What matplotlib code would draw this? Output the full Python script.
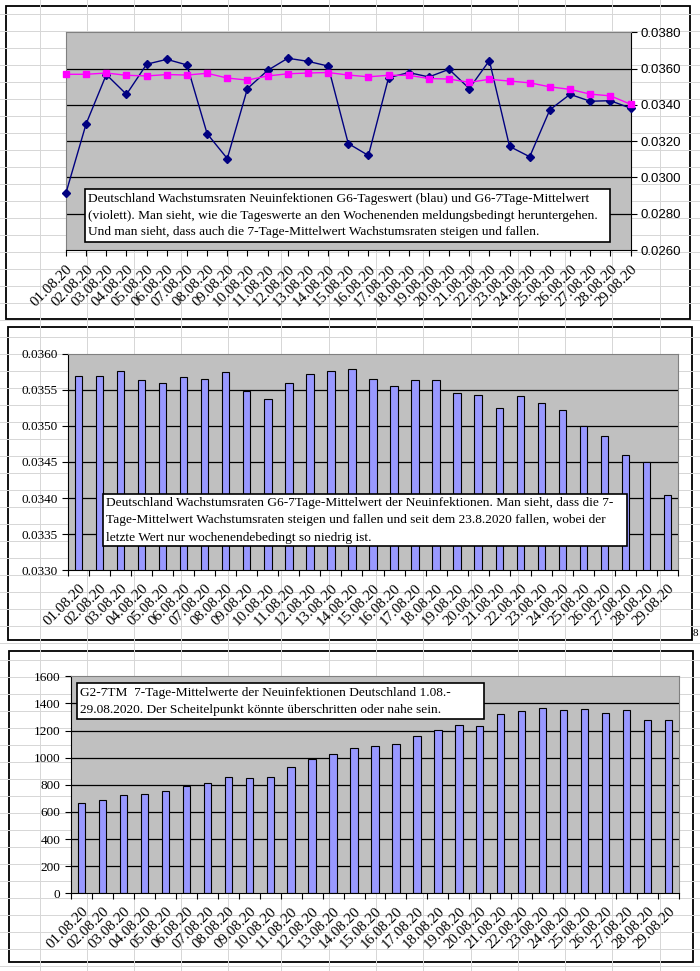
import matplotlib
matplotlib.use("Agg")
import matplotlib.pyplot as plt
from matplotlib.patches import Rectangle

# data
dates = ["01.08.20", "02.08.20", "03.08.20", "04.08.20", "05.08.20", "06.08.20",
         "07.08.20", "08.08.20", "09.08.20", "10.08.20", "11.08.20", "12.08.20",
         "13.08.20", "14.08.20", "15.08.20", "16.08.20", "17.08.20", "18.08.20",
         "19.08.20", "20.08.20", "21.08.20", "22.08.20", "23.08.20", "24.08.20",
         "25.08.20", "26.08.20", "27.08.20", "28.08.20", "29.08.20"]

g6_daily = [0.02915, 0.03296, 0.03567, 0.03458, 0.03624, 0.03651, 0.03620, 0.03241,
            0.03104, 0.03490, 0.03590, 0.03657, 0.03640, 0.03614, 0.03187, 0.03121,
            0.03550, 0.03578, 0.03554, 0.03596, 0.03490, 0.03644, 0.03171, 0.03114,
            0.03373, 0.03458, 0.03420, 0.03423, 0.03382]

g6_7day = [0.035686, 0.035686, 0.035755, 0.035631, 0.035594, 0.035672, 0.035644,
           0.035741, 0.035478, 0.035367, 0.035594, 0.035714, 0.035755, 0.035783,
           0.035644, 0.035547, 0.035631, 0.035631, 0.035451, 0.035423, 0.035243,
           0.035409, 0.035312, 0.035215, 0.034993, 0.034855, 0.034592, 0.034497,
           0.034038]

g2_7day = [664, 686, 723, 730, 752, 789, 811, 855, 848, 855, 929, 988, 1025, 1069,
           1084, 1099, 1158, 1202, 1239, 1231, 1320, 1342, 1364, 1349, 1357, 1327,
           1349, 1276, 1276]

text1 = ["Deutschland Wachstumsraten Neuinfektionen G6-Tageswert (blau) und G6-7Tage-Mittelwert",
         "(violett). Man sieht, wie die Tageswerte an den Wochenenden meldungsbedingt heruntergehen.",
         "Und man sieht, dass auch die 7-Tage-Mittelwert Wachstumsraten steigen und fallen."]
text2 = ["Deutschland Wachstumsraten G6-7Tage-Mittelwert der Neuinfektionen. Man sieht, dass die 7-",
         "Tage-Mittelwert Wachstumsraten steigen und fallen und seit dem 23.8.2020 fallen, wobei der",
         "letzte Wert nur wochenendebedingt so niedrig ist."]
text3 = ["G2-7TM  7-Tage-Mittelwerte der Neuinfektionen Deutschland 1.08.-",
         "29.08.2020. Der Scheitelpunkt könnte überschritten oder nahe sein."]

W, H = 700, 971
SERIF = "Liberation Serif"
SANS = "Liberation Sans"
GRAY_BG = "#C0C0C0"
BAR = "#9999FF"
DATE_FS = 10.8

fig = plt.figure(figsize=(W / 100, H / 100), dpi=100)


def px_axes(left, top, right, bottom, **kw):
    return fig.add_axes([left / W, 1 - bottom / H, (right - left) / W, (bottom - top) / H], **kw)


# spreadsheet background with its cell grid
bg = px_axes(0, 0, W, H, zorder=-5)
bg.set_xlim(0, W)
bg.set_ylim(H, 0)
bg.axis("off")
for y in range(-3, H, 17):
    bg.plot([0, W], [y, y], color="#D6D6D6", lw=0.7)
for x in [40, 87, 134, 181, 228, 281, 329, 376, 423, 471, 518, 565, 612, 660]:
    bg.plot([x, x], [0, H], color="#D6D6D6", lw=0.7)
for l, t, r, b in [(5.5, 6, 689.5, 319), (7.5, 327.5, 691.5, 640), (9.3, 650.7, 692.5, 962)]:
    bg.add_patch(Rectangle((l, t), r - l, b - t, facecolor="white", edgecolor="black", lw=1.3))
bg.text(693, 633, "8", fontsize=8, family=SERIF, va="center")


def style_axes(ax, side):
    ax.set_facecolor(GRAY_BG)
    for s in ax.spines.values():
        s.set_color("#808080")
    ax.spines["bottom"].set_color("black")
    ax.spines[side].set_color("black")
    ax.tick_params(axis="y", direction="out", length=4, width=0.8, colors="black")
    ax.tick_params(axis="x", which="both", direction="out", width=0.8)


def draw_grid(ax, ticks):
    for v in ticks[1:-1]:
        ax.axhline(v, color="black", lw=0.9, zorder=0.5)


# chart 1: daily and 7-day growth rates
ax1 = px_axes(66, 32.3, 630.5, 250)
style_axes(ax1, "right")
x = list(range(len(dates)))
ticks1 = [0.026, 0.028, 0.030, 0.032, 0.034, 0.036, 0.038]
draw_grid(ax1, ticks1)
ax1.plot(x, g6_daily, color="#000080", lw=1, marker="D", ms=4.5, zorder=3, clip_on=False)
ax1.plot(x, g6_7day, color="#FF00FF", lw=1, marker="s", ms=4.8, zorder=3, clip_on=False)
ax1.set_xlim(0, 28)
ax1.set_ylim(0.026, 0.038)
ax1.yaxis.tick_right()
ax1.set_yticks(ticks1)
ax1.set_yticklabels([f"{v:.4f}" for v in ticks1], family=SANS, fontsize=9.5)
ax1.set_xticks(x)
ax1.set_xticklabels(dates, rotation=45, ha="right", va="top", rotation_mode="anchor",
                    family=SERIF, fontsize=DATE_FS)
ax1.tick_params(axis="x", length=4, pad=5)


def bar_chart(ax, values, ticks, fmt):
    style_axes(ax, "left")
    draw_grid(ax, ticks)
    ax.bar(x, values, width=0.34, color=BAR, edgecolor="black", lw=0.8, zorder=2)
    ax.set_xlim(-0.5, len(values) - 0.5)
    ax.set_ylim(ticks[0], ticks[-1])
    ax.set_yticks(ticks)
    ax.set_yticklabels([fmt.format(v) for v in ticks], family=SERIF, fontsize=9.5)
    ax.set_xticks(x)
    ax.set_xticklabels(dates, rotation=45, ha="right", va="top", rotation_mode="anchor",
                       family=SERIF, fontsize=DATE_FS)
    ax.set_xticks([i - 0.5 for i in range(len(values) + 1)], minor=True)
    ax.tick_params(axis="x", which="major", length=0, pad=8)
    ax.tick_params(axis="x", which="minor", length=4)


# chart 2: 7-day mean growth rate
ax2 = px_axes(68.3, 353.7, 677.7, 570.3)
ticks2 = [0.0330, 0.0335, 0.0340, 0.0345, 0.0350, 0.0355, 0.0360]
bar_chart(ax2, g6_7day, ticks2, "{:.4f}")

# chart 3: 7-day mean of new infections
ax3 = px_axes(70.7, 676.3, 679.3, 893.3)
ticks3 = [0, 200, 400, 600, 800, 1000, 1200, 1400, 1600]
bar_chart(ax3, g2_7day, ticks3, "{:.0f}")

# text boxes on top of the charts
ov = px_axes(0, 0, W, H, zorder=10)
ov.set_xlim(0, W)
ov.set_ylim(H, 0)
ov.axis("off")
ov.patch.set_visible(False)
for (l, t, r, b), lines, step in [((85, 189.5, 610, 241.7), text1, 16.2),
                                  ((103.3, 494.3, 627, 546), text2, 17.6),
                                  ((77.3, 683.3, 484.3, 719.3), text3, 17.4)]:
    ov.add_patch(Rectangle((l, t), r - l, b - t, facecolor="white", edgecolor="black", lw=1.2))
    y0 = t + (b - t) / 2 - step * (len(lines) - 1) / 2
    for i, line in enumerate(lines):
        ov.text(l + 3, y0 + i * step, line, family=SERIF, fontsize=9.6, va="center", ha="left")

fig.savefig("out.png", dpi=100)
